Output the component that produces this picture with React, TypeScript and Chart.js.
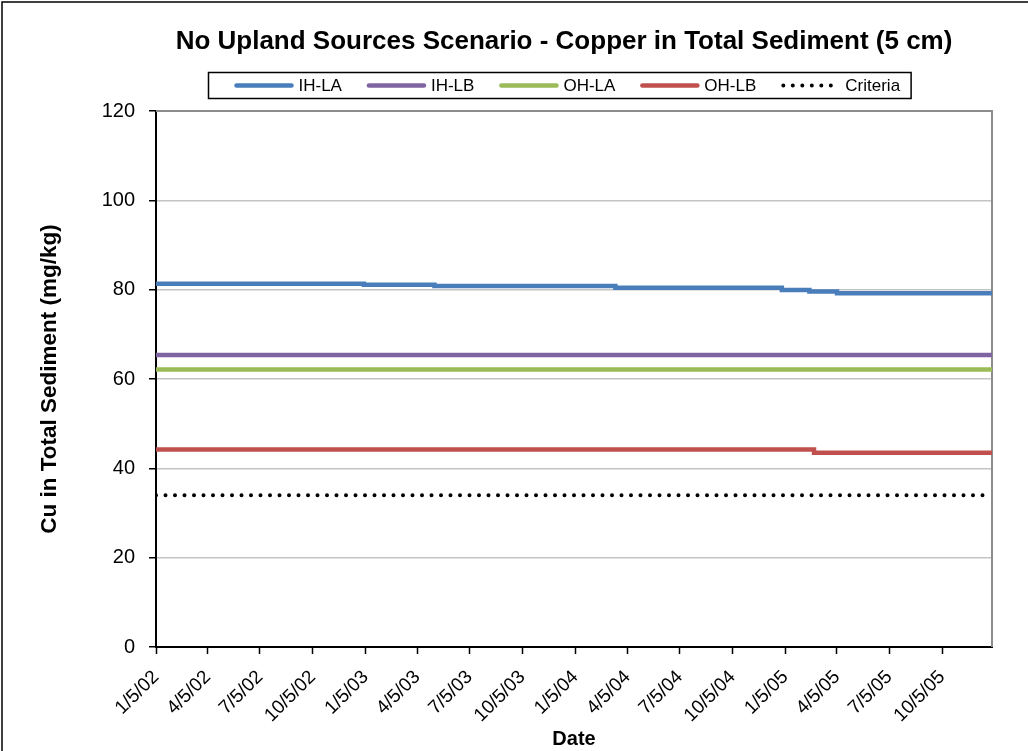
import React, { useEffect, useRef } from 'react';
import { Chart, registerables } from 'chart.js';
Chart.register(...registerables);

const FONT = '"Liberation Sans", Arial, Helvetica, sans-serif';

const TITLE = 'No Upland Sources Scenario - Copper in Total Sediment (5 cm)';
const Y_TITLE = 'Cu in Total Sediment (mg/kg)';
const X_TITLE = 'Date';

const X_TICK_LABELS = ['1/5/02', '4/5/02', '7/5/02', '10/5/02', '1/5/03', '4/5/03', '7/5/03', '10/5/03', '1/5/04', '4/5/04', '7/5/04', '10/5/04', '1/5/05', '4/5/05', '7/5/05', '10/5/05'];
const X_START = '1/5/02';
const X_END = '12/31/05';
const Y_MIN = 0;
const Y_MAX = 120;
const Y_STEP = 20;

const SERIES_NAMES = ['IH-LA', 'IH-LB', 'OH-LA', 'OH-LB', 'Criteria'];
const SERIES_COLORS = ['#4a7ebb', '#8064a2', '#9bbb59', '#c0504d', '#000000'];

// value changes (stepped): each value holds from its date until the next date
const IHLA_DATES = ['1/5/02', '1/2/03', '5/5/03', '3/15/04', '12/30/04', '2/16/05', '4/5/05', '12/31/05'];
const IHLA_VALUES = [81.3, 81.1, 80.8, 80.45, 79.9, 79.6, 79.2, 79.2];
const IHLB_DATES = ['1/5/02', '12/31/05'];
const IHLB_VALUES = [65.4, 65.4];
const OHLA_DATES = ['1/5/02', '12/31/05'];
const OHLA_VALUES = [62.1, 62.1];
const OHLB_DATES = ['1/5/02', '2/24/05', '12/31/05'];
const OHLB_VALUES = [44.2, 43.5, 43.5];
const CRIT_DATES = ['1/5/02', '12/31/05'];
const CRIT_VALUES = [34, 34];

const dayOf = (s: string) => {
  const [m, d, y] = s.split('/').map(Number);
  const [m0, d0, y0] = X_START.split('/').map(Number);
  return (Date.UTC(2000 + y, m - 1, d) - Date.UTC(2000 + y0, m0 - 1, d0)) / 86400000;
};
const pts = (dates: string[], vals: number[]) => dates.map((d, i) => ({ x: dayOf(d), y: vals[i] }));

const decorPlugin = {
  id: 'decor',
  beforeDatasetsDraw(chart: any) {
    const { ctx, chartArea } = chart;
    ctx.save();
    ctx.strokeStyle = '#8c8c8c';
    ctx.lineWidth = 2;
    ctx.beginPath();
    ctx.moveTo(chartArea.left, chartArea.top);
    ctx.lineTo(chartArea.right, chartArea.top);
    ctx.lineTo(chartArea.right, chartArea.bottom);
    ctx.stroke();
    ctx.restore();
  },
  afterDraw(chart: any) {
    const { ctx } = chart;
    ctx.save();
    // outer chart border (top and left visible)
    ctx.strokeStyle = '#000';
    ctx.lineWidth = 1.5;
    ctx.beginPath();
    ctx.moveTo(2, chart.height);
    ctx.lineTo(2, 2);
    ctx.lineTo(chart.width, 2);
    ctx.stroke();

    // title
    ctx.fillStyle = '#000';
    ctx.font = `bold 26px ${FONT}`;
    ctx.textAlign = 'center';
    ctx.textBaseline = 'alphabetic';
    ctx.fillText(TITLE, 564, 49);

    // legend
    ctx.font = `17px ${FONT}`;
    ctx.textAlign = 'left';
    ctx.textBaseline = 'middle';
    const LINE_W = 59, GAP_TEXT = 5, GAP_ITEM = 25, PAD_L = 26, PAD_R = 11;
    const items = chart.data.datasets.map((ds: any) => ({
      label: ds.label, color: ds.borderColor, dash: ds.borderDash || [], width: ds.borderWidth,
      tw: ctx.measureText(ds.label).width,
    }));
    let total = PAD_L + PAD_R;
    items.forEach((it: any, i: number) => {
      total += LINE_W + GAP_TEXT + it.tw + (i < items.length - 1 ? GAP_ITEM : 0);
    });
    const boxL = Math.round(559 - total / 2) + 0.5;
    const boxT = 72.5, boxH = 26;
    ctx.strokeStyle = '#000';
    ctx.lineWidth = 1.5;
    ctx.strokeRect(boxL, boxT, total, boxH);
    let x = boxL + PAD_L;
    const cy = boxT + boxH / 2;
    items.forEach((it: any) => {
      ctx.save();
      ctx.strokeStyle = it.color;
      ctx.lineWidth = it.width;
      ctx.lineCap = 'round';
      ctx.setLineDash(it.dash);
      ctx.beginPath();
      ctx.moveTo(x + 2, cy);
      ctx.lineTo(x + LINE_W - 2, cy);
      ctx.stroke();
      ctx.restore();
      x += LINE_W + GAP_TEXT;
      ctx.fillStyle = '#000';
      ctx.fillText(it.label, x, cy + 1);
      x += it.tw + GAP_ITEM;
    });
    ctx.restore();
  },
};

export default function App() {
  const ref = useRef<HTMLCanvasElement>(null);
  useEffect(() => {
    if (!ref.current) return;
    const seriesPts = [
      pts(IHLA_DATES, IHLA_VALUES),
      pts(IHLB_DATES, IHLB_VALUES),
      pts(OHLA_DATES, OHLA_VALUES),
      pts(OHLB_DATES, OHLB_VALUES),
      pts(CRIT_DATES, CRIT_VALUES),
    ];
    const datasets = SERIES_NAMES.map((name, i) => {
      const crit = name === 'Criteria';
      return {
        label: name,
        data: seriesPts[i],
        borderColor: SERIES_COLORS[i],
        backgroundColor: SERIES_COLORS[i],
        borderWidth: crit ? 4 : 4.5,
        borderDash: crit ? [0, 9.5] : [],
        borderCapStyle: 'round',
        stepped: crit ? false : 'before',
        pointRadius: 0,
        fill: false,
      };
    });
    const chart = new Chart(ref.current, {
      type: 'line',
      data: { datasets } as any,
      plugins: [decorPlugin],
      options: {
        animation: false,
        responsive: false,
        layout: { padding: { left: 0, right: 36, top: 111, bottom: 0 } },
        plugins: { legend: { display: false }, title: { display: false }, tooltip: { enabled: false } },
        scales: {
          x: {
            type: 'linear',
            min: dayOf(X_START),
            max: dayOf(X_END),
            afterBuildTicks: (scale: any) => {
              scale.ticks = X_TICK_LABELS.map((d) => ({ value: dayOf(d) }));
            },
            afterFit: (scale: any) => { scale.height = 104; },
            ticks: {
              autoSkip: false,
              maxRotation: 45,
              minRotation: 45,
              padding: 12,
              color: '#000',
              font: { family: FONT, size: 19 },
              callback: (_v: any, i: number) => X_TICK_LABELS[i],
            },
            grid: { display: true, drawOnChartArea: false, drawTicks: true, tickLength: 7, tickColor: '#000', tickWidth: 1.5 },
            border: { display: true, color: '#000', width: 2 },
            title: { display: true, text: X_TITLE, color: '#000', font: { family: FONT, size: 20, weight: 'bold' }, padding: { top: 0, bottom: 0 } },
          },
          y: {
            min: Y_MIN,
            max: Y_MAX,
            ticks: { stepSize: Y_STEP, padding: 14, color: '#000', font: { family: FONT, size: 20 } },
            afterFit: (scale: any) => { scale.width = 156; },
            grid: { color: '#c4c4c4', lineWidth: 1.5, tickLength: 7, tickColor: '#000', tickWidth: 1.5 },
            border: { display: true, color: '#000', width: 2 },
            title: { display: true, text: Y_TITLE, color: '#000', font: { family: FONT, size: 22.5, weight: 'bold' }, padding: { top: 36, bottom: 0 } },
          },
        },
      } as any,
    });
    return () => chart.destroy();
  }, []);
  return (
    <div style={{ position: 'fixed', left: 0, top: 0, width: 1028, height: 751, background: '#fff' }}>
      <canvas ref={ref} width={1028} height={751} style={{ display: 'block' }} />
    </div>
  );
}
